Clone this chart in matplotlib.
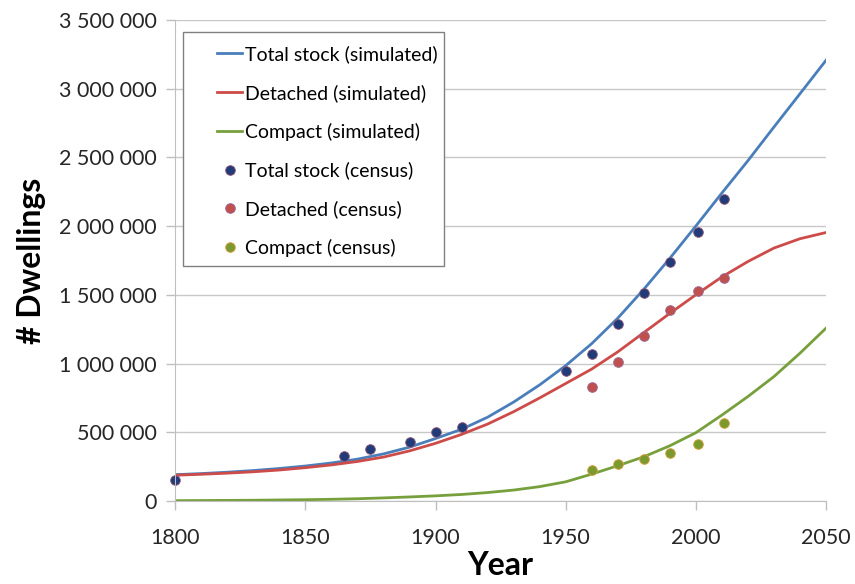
import matplotlib
matplotlib.use("Agg")
import matplotlib.pyplot as plt
from matplotlib.patches import Rectangle
from matplotlib.ticker import FuncFormatter

plt.rcParams["font.family"] = ["Lato", "DejaVu Sans"]

# simulated curves, read every 10 years
sim_years = [1800, 1810, 1820, 1830, 1840, 1850, 1860, 1870, 1880, 1890,
             1900, 1910, 1920, 1930, 1940, 1950, 1960, 1970, 1980, 1990,
             2000, 2010, 2020, 2030, 2040, 2050]
total_sim = [192000, 200000, 210000, 222000, 237000, 255000, 277000, 305000,
             343000, 392000, 455000, 522000, 610000, 720000, 845000, 985000,
             1145000, 1330000, 1540000, 1765000, 2000000, 2240000, 2475000,
             2720000, 2962000, 3205000]
detached_sim = [188000, 195000, 203000, 213000, 226000, 243000, 263000,
                288000, 320000, 365000, 420000, 485000, 560000, 650000,
                750000, 855000, 960000, 1085000, 1225000, 1365000, 1500000,
                1630000, 1742000, 1840000, 1908000, 1953000]
compact_sim = [3000, 4000, 5000, 6000, 8000, 10000, 13000, 17000, 23000,
               30000, 38000, 48000, 62000, 80000, 105000, 140000, 196000,
               257000, 322000, 402000, 497000, 625000, 760000, 905000,
               1075000, 1257000]

# census points
total_years = [1800, 1865, 1875, 1890, 1900, 1910, 1950, 1960, 1970, 1980,
               1990, 2001, 2011]
total_census = [151000, 330000, 378000, 429000, 504000, 536000, 948000,
                1068000, 1290000, 1514000, 1742000, 1956000, 2196000]
census_years = [1960, 1970, 1980, 1990, 2001, 2011]
detached_census = [827000, 1014000, 1199000, 1392000, 1528000, 1621000]
compact_census = [223000, 267000, 306000, 347000, 417000, 566000]

fig = plt.figure(figsize=(8.55, 5.84), dpi=100)
ax = fig.add_axes([0.205, 0.142, 0.761, 0.824])

ax.plot(sim_years, total_sim, color="#4A7EBB", lw=2, label="Total stock (simulated)")
ax.plot(sim_years, detached_sim, color="#CD4B48", lw=2, label="Detached (simulated)")
ax.plot(sim_years, compact_sim, color="#77A03C", lw=2, label="Compact (simulated)")
ax.plot(total_years, total_census, "o", color="#1F3C78", mec="#9A5A7A", mew=0.6,
        ms=7, label="Total stock (census)", clip_on=False)
ax.plot(census_years, detached_census, "o", color="#C0504D", mec="#9A6A9A", mew=0.6,
        ms=7, label="Detached (census)")
ax.plot(census_years, compact_census, "o", color="#7A9A30", mec="#E0A040", mew=0.6,
        ms=7, label="Compact (census)")

ax.set_xlim(1800, 2050)
ax.set_ylim(0, 3500000)
ax.set_xticks(range(1800, 2051, 50))
ax.set_yticks(range(0, 3500001, 500000))
ax.yaxis.set_major_formatter(FuncFormatter(lambda v, p: f"{int(v):,}".replace(",", " ")))
ax.tick_params(labelsize=15.5, colors="#BFBFBF", labelcolor="#262626",
               length=6.5, width=1)
ax.tick_params(axis="x", pad=13)
ax.tick_params(axis="y", pad=7)

ax.grid(axis="y", color="#C8C8C8", lw=1)
ax.set_axisbelow(True)
for s in ["top", "right"]:
    ax.spines[s].set_visible(False)
for s in ["left", "bottom"]:
    ax.spines[s].set_color("#BFBFBF")

ax.set_xlabel("Year", fontsize=23, fontweight="bold", labelpad=2)
ax.set_ylabel("# Dwellings", fontsize=23, fontweight="bold", labelpad=9)

# legend box drawn separately so the inner left margin matches
ax.add_patch(Rectangle((0.0123, 0.4886), 0.4007, 0.4864, transform=ax.transAxes,
                       facecolor="white", edgecolor="#808080", lw=1, zorder=4))
leg = ax.legend(loc="upper left", bbox_to_anchor=(0.064, 0.947), fontsize=14,
                frameon=False, handlelength=1.3, handletextpad=0.15,
                labelspacing=1.07, borderpad=0, borderaxespad=0)
leg.set_zorder(5)

plt.savefig("out.png", dpi=100)
